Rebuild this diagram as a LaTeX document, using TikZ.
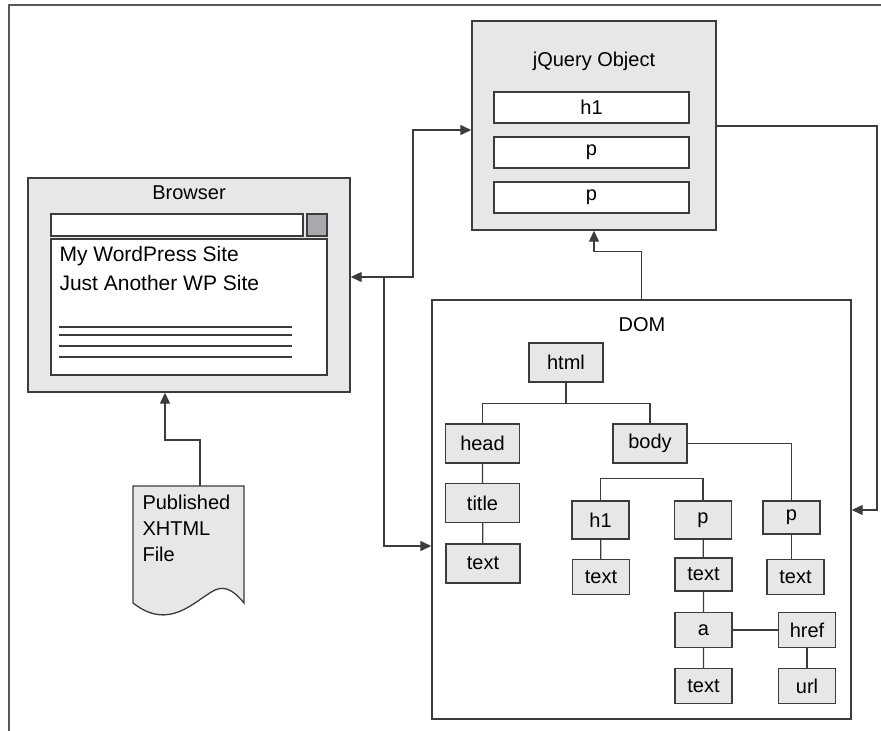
\documentclass[tikz,border=0pt]{standalone}
\usepackage{fontspec}
\setmainfont{Liberation Sans}
\usetikzlibrary{arrows.meta,positioning}
\definecolor{boxgray}{HTML}{E6E7E8}
\definecolor{btngray}{HTML}{A7A9AC}
\definecolor{linegray}{HTML}{3C3C3C}
\tikzset{
    panel/.style={draw=linegray, line width=1.4pt, fill=boxgray, inner sep=0pt},
    slot/.style={draw=linegray, line width=1.3pt, fill=white, inner sep=0pt, font=\fontsize{20}{24}\selectfont},
    tnode/.style={draw=linegray, line width=1.3pt, fill=boxgray, inner sep=0pt, font=\fontsize{20}{24}\selectfont},
    wide/.style={tnode, minimum width=74pt, minimum height=39pt},
    narrow/.style={tnode, minimum width=57pt, minimum height=35pt},
    wire/.style={draw=linegray, line width=1.3pt},
    arr/.style={wire, -{Triangle[length=11pt,width=10pt]}},
    lbl/.style={font=\fontsize{20}{24}\selectfont}
}

\begin{document}
\begin{tikzpicture}[x=1pt, y=-1pt]
    \useasboundingbox (0,0) rectangle (881,731);
    \draw[draw=linegray!85, line width=2pt] (9,731) -- (9,5) -- (881,5);

    % browser
    \node[panel, minimum width=322pt, minimum height=214pt] (browser) at (189,285) {};
    \node[lbl] (browserlbl) at (189,193) {Browser};
    \node[slot, minimum width=252pt, minimum height=22pt] (urlbar) at (177,225) {};
    \node[slot, fill=btngray, minimum width=20pt, minimum height=22pt] (gobutton) at (317,225) {};
    \node[slot, minimum width=276pt, minimum height=136pt] (page) at (189,307) {};
    \node[anchor=west, font=\fontsize{21}{25}\selectfont] (sitename) at (56,256) {My WordPress Site};
    \node[anchor=west, font=\fontsize{21}{25}\selectfont] (tagline) at (56,283) {Just Another WP Site};
    \foreach \y in {327,335,346,357}
        \draw[wire] (59,\y) -- (292,\y);

    % published file
    \filldraw[wire, fill=boxgray] (133,603) -- (133,486) -- (244,486) -- (244,603)
        .. controls (235,592) and (226,585) .. (215,590)
        .. controls (195,600) and (170,632) .. (133,603) -- cycle;
    \node[anchor=north west, align=left, font=\fontsize{20}{26}\selectfont] (xhtml) at (139,491) {Published\\XHTML\\File};
    \coordinate (xtop) at (200,486);

    % jquery object
    \node[panel, minimum width=244pt, minimum height=209pt] (jquery) at (594,125.5) {};
    \node[lbl] (jquerylbl) at (594,61) {jQuery Object};
    \node[slot, minimum width=195pt, minimum height=31pt] (jqhone) at (591.5,107.5) {h1};
    \node[slot, minimum width=195pt, minimum height=31pt] (jqpa) at (591.5,152.5) {p};
    \node[slot, minimum width=195pt, minimum height=31pt] (jqpb) at (591.5,197.5) {p};

    % dom
    \node[draw=linegray, line width=1.4pt, fill=white, minimum width=419pt, minimum height=419pt] (dom) at (641.5,509.5) {};
    \node[lbl] (domlbl) at (642,325) {DOM};
    \node[wide] (html) at (566,362.5) {html};
    \node[wide] (head) at (482.5,443.5) {head};
    \node[wide] (body) at (650,443.5) {body};
    \node[wide] (title) at (482.5,503) {title};
    \node[wide] (headtext) at (483,563.5) {text};
    \node[narrow, minimum height=38pt] (hone) at (600.5,520) {h1};
    \node[narrow, minimum height=38pt] (pmid) at (703,520) {p};
    \node[narrow, minimum height=33pt] (pright) at (791.5,517.5) {p};
    \node[narrow] (honetext) at (601,577) {text};
    \node[narrow, minimum height=33pt] (pmidtext) at (703.5,574.5) {text};
    \node[narrow] (prighttext) at (795.5,577) {text};
    \node[narrow] (anchor) at (703.5,630) {a};
    \node[narrow] (href) at (807,630) {href};
    \node[narrow] (atext) at (703.5,686) {text};
    \node[narrow] (url) at (807,686) {url};

    \draw[wire] (html.south) -- ++(0,20.5) -| (head.north);
    \draw[wire] (html.south) ++(0,20.5) -| (body.north);
    \draw[wire] (body.east) -| (pright.north);
    \draw[wire] (hone.north) -- ++(0,-22) -| (pmid.north);
    \draw[wire] (head) -- (title) -- (headtext);
    \draw[wire] (hone) -- (honetext);
    \draw[wire] (pmid) -- (pmidtext) -- (anchor) -- (atext);
    \draw[wire] (pright.south) -- (pright.south |- prighttext.north);
    \draw[wire] (anchor) -- (href) -- (url);

    % connectors
    \coordinate (split) at (384,277);
    \draw[wire, {Triangle[length=11pt,width=10pt]}-{Triangle[length=11pt,width=10pt]}]
        (browser.east |- split) -- (413,277) |- (jquery.west |- 0,130);
    \draw[arr] (split) |- (dom.west |- 0,546);
    \draw[arr] (jquery.east |- 0,126) -- (877,126) |- (dom.east |- 0,510);
    \draw[arr] (dom.north) -- ++(0,-48) -| (jquery.south);
    \draw[arr] (xtop) -- (200,440) -| (browser.south -| 165,0);
\end{tikzpicture}
\end{document}
